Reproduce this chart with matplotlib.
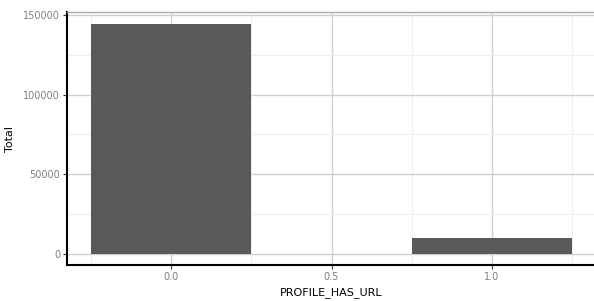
import matplotlib
matplotlib.use("Agg")
import matplotlib.pyplot as plt
from matplotlib.ticker import MultipleLocator

# données
categories = [0.0, 1.0]
totals = [144700, 9900]
xticks = [0.0, 0.5, 1.0]
xtick_labels = ["0.0", "0.5", "1.0"]
yticks = [0, 50000, 100000, 150000]
ytick_labels = ["0", "50000", "100000", "150000"]

fig = plt.figure(figsize=(5.94, 3.01), dpi=100)
ax = fig.add_axes([67 / 594, 36 / 301, 529 / 594, 253 / 301])

ax.bar(categories, totals, width=0.5, color="#595959", zorder=2)

ax.set_xlim(-0.325, 1.325)
ax.set_ylim(-7235, 151935)
ax.set_xticks(xticks)
ax.set_xticklabels(xtick_labels)
ax.set_yticks(yticks)
ax.set_yticklabels(ytick_labels)
ax.xaxis.set_minor_locator(MultipleLocator(0.25))
ax.yaxis.set_minor_locator(MultipleLocator(25000))

# grille
ax.grid(which="major", color="#d0d0d0", linewidth=1.0, zorder=0)
ax.grid(which="minor", color="#efefef", linewidth=0.8, zorder=0)
ax.set_axisbelow(True)

for s in ["left", "bottom"]:
    ax.spines[s].set_color("black")
    ax.spines[s].set_linewidth(1.5)
ax.spines["top"].set_color("#aaaaaa")
ax.spines["top"].set_linewidth(1.0)
ax.spines["right"].set_visible(False)

ax.tick_params(which="major", length=3, width=0.8, color="#333333",
               labelsize=7, labelcolor="#7f7f7f", pad=2)
ax.tick_params(which="minor", length=0)

ax.set_xlabel("PROFILE_HAS_URL", fontsize=8, color="black", labelpad=4)
ax.set_ylabel("Total", fontsize=8, color="black", labelpad=6)

fig.savefig("out.png", dpi=100)
